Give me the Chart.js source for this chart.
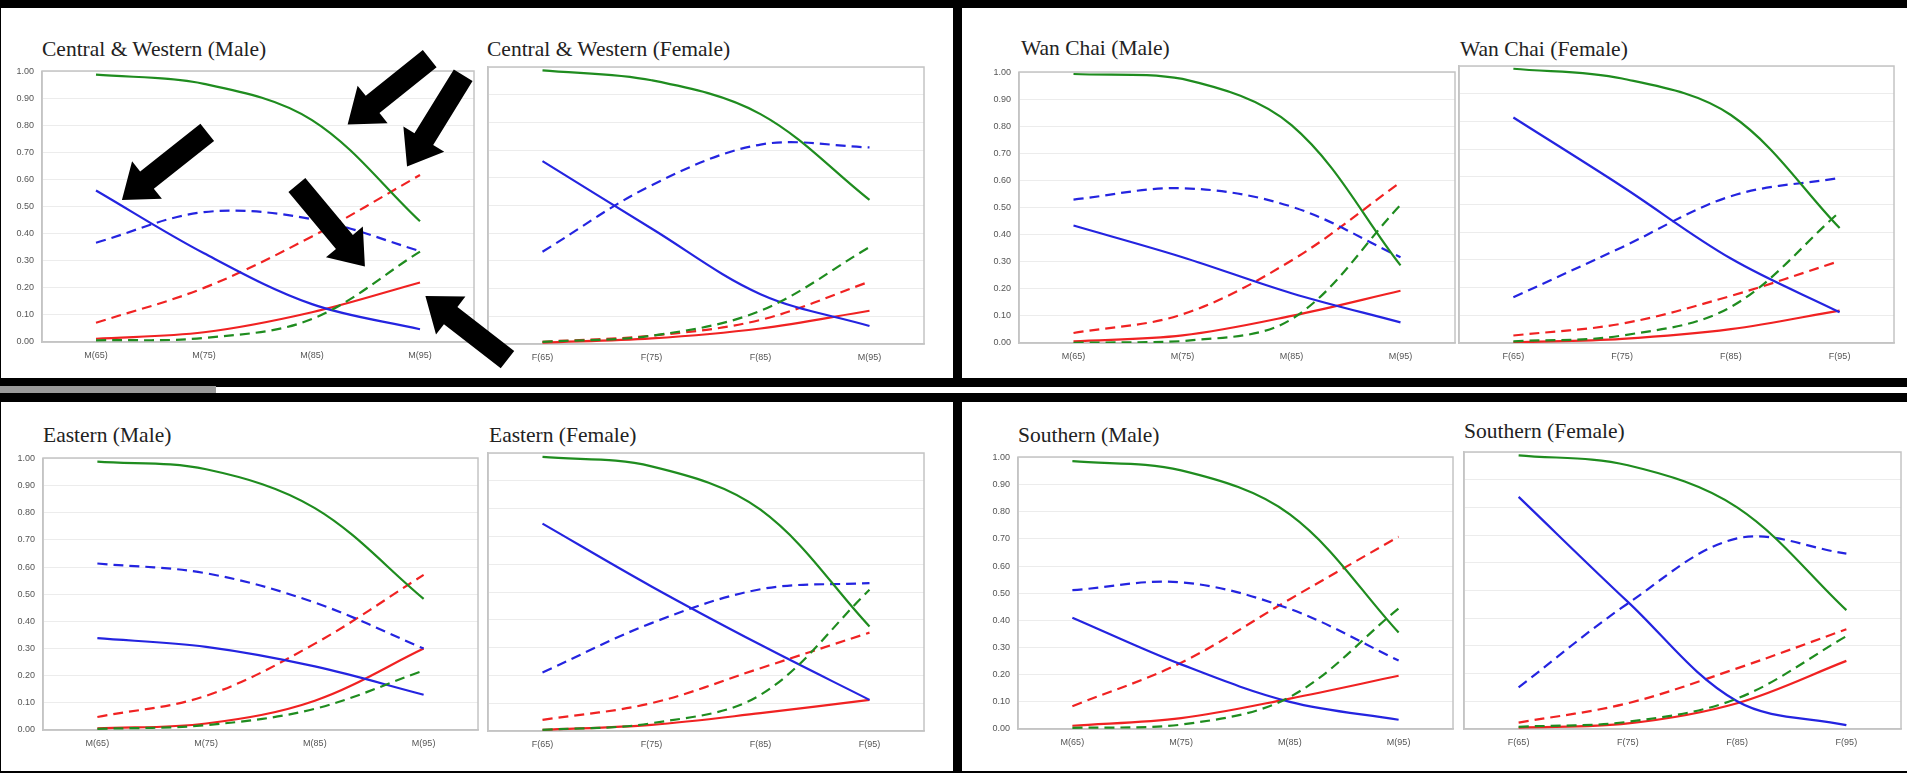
<!DOCTYPE html>
<html>
<head>
<meta charset="utf-8">
<script src="https://cdn.jsdelivr.net/npm/chart.js@4.4.1/dist/chart.umd.min.js"></script>
<style>
  html, body { margin: 0; padding: 0; background: #000; }
  #page { position: relative; width: 1907px; height: 773px; background: #000; overflow: hidden; }
  .panel { position: absolute; background: #fff; }
  .title {
    position: absolute; white-space: nowrap; color: #222;
    font-family: "Liberation Serif", "Times New Roman", serif;
    font-size: 21.5px; line-height: 21px;
  }
  canvas { position: absolute; display: block; }
</style>
</head>
<body>
<div id="page">
  <div class="panel" style="left:1px;top:8px;width:952px;height:370px"></div>
  <div class="panel" style="left:962px;top:8px;width:945px;height:370px"></div>
  <div class="panel" style="left:1px;top:402px;width:952px;height:369px"></div>
  <div class="panel" style="left:962px;top:402px;width:945px;height:369px"></div>
  <div style="position:absolute;left:0;top:386px;width:216px;height:7px;background:#9a9a9a"></div>
  <div style="position:absolute;left:216px;top:387px;width:1691px;height:6px;background:#fff"></div>
</div>
<script>
// categories (the Central & Western female chart really prints M(95) at the end)
const maleCats     = ['M(65)', 'M(75)', 'M(85)', 'M(95)'];
const femaleCats   = ['F(65)', 'F(75)', 'F(85)', 'F(95)'];
const cwFemaleCats = ['F(65)', 'F(75)', 'F(85)', 'M(95)'];
const yTickLabels  = ['0.00','0.10','0.20','0.30','0.40','0.50','0.60','0.70','0.80','0.90','1.00'];

// Central & Western (Male)
const cwM_green     = [0.988, 0.954, 0.820, 0.446];
const cwM_greenDash = [0.006, 0.015, 0.085, 0.334];
const cwM_blue      = [0.560, 0.328, 0.140, 0.047];
const cwM_blueDash  = [0.367, 0.480, 0.454, 0.336];
const cwM_red       = [0.012, 0.036, 0.110, 0.220];
const cwM_redDash   = [0.071, 0.200, 0.390, 0.617];

// Central & Western (Female)
const cwF_green     = [0.988, 0.952, 0.830, 0.520];
const cwF_greenDash = [0.008, 0.030, 0.120, 0.350];
const cwF_blue      = [0.660, 0.417, 0.180, 0.065];
const cwF_blueDash  = [0.333, 0.573, 0.720, 0.710];
const cwF_red       = [0.005, 0.020, 0.056, 0.120];
const cwF_redDash   = [0.008, 0.030, 0.087, 0.225];

// Wan Chai (Male)
const wcM_green     = [0.994, 0.976, 0.805, 0.287];
const wcM_greenDash = [0.001, 0.007, 0.088, 0.510];
const wcM_blue      = [0.434, 0.317, 0.184, 0.076];
const wcM_blueDash  = [0.530, 0.572, 0.504, 0.317];
const wcM_red       = [0.006, 0.028, 0.100, 0.193];
const wcM_redDash   = [0.037, 0.106, 0.305, 0.594];

// Wan Chai (Female)
const wcF_green     = [0.990, 0.955, 0.823, 0.415];
const wcF_greenDash = [0.006, 0.027, 0.130, 0.473];
const wcF_blue      = [0.814, 0.565, 0.305, 0.111];
const wcF_blueDash  = [0.165, 0.346, 0.530, 0.596];
const wcF_red       = [0.002, 0.015, 0.050, 0.117];
const wcF_redDash   = [0.027, 0.070, 0.170, 0.296];

// Eastern (Male)
const eM_green      = [0.988, 0.960, 0.817, 0.483];
const eM_greenDash  = [0.004, 0.018, 0.078, 0.219];
const eM_blue       = [0.338, 0.306, 0.234, 0.130];
const eM_blueDash   = [0.613, 0.577, 0.469, 0.300];
const eM_red        = [0.006, 0.024, 0.108, 0.300];
const eM_redDash    = [0.048, 0.126, 0.318, 0.571];

// Eastern (Female)
const eF_green      = [0.986, 0.952, 0.796, 0.376];
const eF_greenDash  = [0.004, 0.028, 0.130, 0.508];
const eF_blue       = [0.746, 0.520, 0.310, 0.112];
const eF_blueDash   = [0.210, 0.388, 0.510, 0.532];
const eF_red        = [0.004, 0.022, 0.064, 0.112];
const eF_redDash    = [0.040, 0.100, 0.226, 0.354];

// Southern (Male)
const sM_green      = [0.986, 0.952, 0.790, 0.355];
const sM_greenDash  = [0.004, 0.016, 0.118, 0.444];
const sM_blue       = [0.410, 0.238, 0.100, 0.034];
const sM_blueDash   = [0.511, 0.540, 0.442, 0.252];
const sM_red        = [0.012, 0.040, 0.112, 0.196];
const sM_redDash    = [0.084, 0.244, 0.478, 0.708];

// Southern (Female)
const sF_green      = [0.988, 0.952, 0.800, 0.429];
const sF_greenDash  = [0.008, 0.026, 0.110, 0.335];
const sF_blue       = [0.838, 0.459, 0.100, 0.014];
const sF_blueDash   = [0.150, 0.453, 0.688, 0.633];
const sF_red        = [0.005, 0.020, 0.093, 0.246];
const sF_redDash    = [0.023, 0.093, 0.219, 0.360];

// arrow annotations on the first chart: [category index, value] for tip and tail
const arrowTips  = [[0.24, 0.525], [2.33, 0.804], [2.88, 0.649], [2.49, 0.279], [3.05, 0.170]];
const arrowTails = [[1.03, 0.775], [3.09, 1.047], [3.40, 0.986], [1.86, 0.580], [3.81, -0.065]];

const GREEN = '#1f8c1f', BLUE = '#2424e0', RED = '#f02222';
const FRAME = '#c4c4c4';
const DASH = [10, 6];
const seriesStyle = [
  { name: 'green',        color: GREEN, dash: [] },
  { name: 'green dashed', color: GREEN, dash: DASH },
  { name: 'blue',         color: BLUE,  dash: [] },
  { name: 'blue dashed',  color: BLUE,  dash: DASH },
  { name: 'red',          color: RED,   dash: [] },
  { name: 'red dashed',   color: RED,   dash: DASH },
];

// layout: plot box [left, top, right, bottom] and title [left, baseline] in page pixels
const panels = [
  { title: 'Central & Western (Male)',   cats: maleCats,     yLabels: true,  plot: [42, 66, 474, 342],     tpos: [42, 57],
    series: [cwM_green, cwM_greenDash, cwM_blue, cwM_blueDash, cwM_red, cwM_redDash], arrows: true },
  { title: 'Central & Western (Female)', cats: cwFemaleCats, yLabels: false, plot: [488, 67, 924, 344],    tpos: [487, 57],
    series: [cwF_green, cwF_greenDash, cwF_blue, cwF_blueDash, cwF_red, cwF_redDash] },
  { title: 'Wan Chai (Male)',            cats: maleCats,     yLabels: true,  plot: [1019, 67, 1455, 343],  tpos: [1021, 56],
    series: [wcM_green, wcM_greenDash, wcM_blue, wcM_blueDash, wcM_red, wcM_redDash] },
  { title: 'Wan Chai (Female)',          cats: femaleCats,   yLabels: false, plot: [1459, 66, 1894, 343],  tpos: [1460, 57],
    series: [wcF_green, wcF_greenDash, wcF_blue, wcF_blueDash, wcF_red, wcF_redDash] },
  { title: 'Eastern (Male)',             cats: maleCats,     yLabels: true,  plot: [43, 453, 478, 730],    tpos: [43, 443],
    series: [eM_green, eM_greenDash, eM_blue, eM_blueDash, eM_red, eM_redDash] },
  { title: 'Eastern (Female)',           cats: femaleCats,   yLabels: false, plot: [488, 453, 924, 731],   tpos: [489, 443],
    series: [eF_green, eF_greenDash, eF_blue, eF_blueDash, eF_red, eF_redDash] },
  { title: 'Southern (Male)',            cats: maleCats,     yLabels: true,  plot: [1018, 452, 1453, 729], tpos: [1018, 443],
    series: [sM_green, sM_greenDash, sM_blue, sM_blueDash, sM_red, sM_redDash] },
  { title: 'Southern (Female)',          cats: femaleCats,   yLabels: false, plot: [1464, 452, 1901, 729], tpos: [1464, 439],
    series: [sF_green, sF_greenDash, sF_blue, sF_blueDash, sF_red, sF_redDash] },
];

const page = document.getElementById('page');

// grey box round the plot area
const plotFrame = {
  id: 'plotFrame',
  beforeDatasetsDraw(chart) {
    const a = chart.chartArea, c = chart.ctx;
    c.save();
    c.strokeStyle = FRAME;
    c.lineWidth = 1.5;
    c.strokeRect(Math.round(a.left), Math.round(a.top), Math.round(a.right - a.left), Math.round(a.bottom - a.top));
    c.restore();
  }
};

// overlay for the black arrows (they run past the first chart's canvas)
const overlay = document.createElement('canvas');
overlay.width = 960; overlay.height = 380;
overlay.style.left = '0px'; overlay.style.top = '0px'; overlay.style.zIndex = 5;

const arrowPlugin = {
  id: 'arrows',
  afterDraw(chart) {
    const c = overlay.getContext('2d');
    const offX = parseFloat(chart.canvas.style.left), offY = parseFloat(chart.canvas.style.top);
    const xs = chart.scales.x, ys = chart.scales.y;
    c.clearRect(0, 0, overlay.width, overlay.height);
    c.fillStyle = '#000';
    arrowTips.forEach((tip, i) => {
      const tx = xs.getPixelForValue(tip[0]) + offX, ty = ys.getPixelForValue(tip[1]) + offY;
      const sx = xs.getPixelForValue(arrowTails[i][0]) + offX, sy = ys.getPixelForValue(arrowTails[i][1]) + offY;
      const len = Math.hypot(tx - sx, ty - sy);
      const ux = (tx - sx) / len, uy = (ty - sy) / len;
      const nx = -uy, ny = ux;
      const w = 11, h = 24, hl = 32;
      const bx = tx - ux * hl, by = ty - uy * hl;
      c.beginPath();
      c.moveTo(sx + nx * w, sy + ny * w);
      c.lineTo(bx + nx * w, by + ny * w);
      c.lineTo(bx + nx * h, by + ny * h);
      c.lineTo(tx, ty);
      c.lineTo(bx - nx * h, by - ny * h);
      c.lineTo(bx - nx * w, by - ny * w);
      c.lineTo(sx - nx * w, sy - ny * w);
      c.closePath();
      c.fill();
    });
  }
};

function makeChart(p) {
  const [L, T, R, B] = p.plot;
  const padL = p.yLabels ? 40 : 4, padT = 8, padR = 4, padB = 24;

  const t = document.createElement('div');
  t.className = 'title';
  t.textContent = p.title;
  t.style.left = p.tpos[0] + 'px';
  t.style.top = (p.tpos[1] - 18) + 'px';
  page.appendChild(t);

  const cv = document.createElement('canvas');
  cv.width = R - L + padL + padR;
  cv.height = B - T + padT + padB;
  cv.style.left = (L - padL) + 'px';
  cv.style.top = (T - padT) + 'px';
  page.appendChild(cv);

  const tickFont = { family: '"Liberation Sans", Arial, sans-serif', size: 9 };

  return new Chart(cv, {
    type: 'line',
    data: {
      labels: p.cats,
      datasets: p.series.map((vals, i) => ({
        label: seriesStyle[i].name,
        data: vals,
        borderColor: seriesStyle[i].color,
        borderDash: seriesStyle[i].dash,
        borderWidth: 2.2,
        pointRadius: 0,
        tension: 0.35,
        fill: false,
      })),
    },
    options: {
      responsive: false,
      animation: false,
      devicePixelRatio: 1,
      layout: { padding: { left: p.yLabels ? 0 : padL, top: padT, right: padR, bottom: 0 } },
      plugins: { legend: { display: false }, tooltip: { enabled: false } },
      scales: {
        x: {
          offset: true,
          grid: { display: false, drawTicks: false },
          border: { display: true, color: FRAME, width: 1.5 },
          ticks: { font: tickFont, color: '#555', padding: 8, maxRotation: 0, autoSkip: false },
          afterFit(s) { s.height = padB; },
        },
        y: {
          min: 0, max: 1,
          grid: { color: '#ececec', lineWidth: 1, drawTicks: false },
          border: { display: true, color: FRAME, width: 1.5 },
          ticks: {
            display: p.yLabels, stepSize: 0.1, font: tickFont, color: '#555', padding: 8,
            callback: (v, i) => yTickLabels[i],
          },
          afterFit(s) { s.width = p.yLabels ? padL : 0; },
        },
      },
    },
    plugins: p.arrows ? [plotFrame, arrowPlugin] : [plotFrame],
  });
}

page.appendChild(overlay);
panels.forEach(makeChart);
</script>
</body>
</html>
